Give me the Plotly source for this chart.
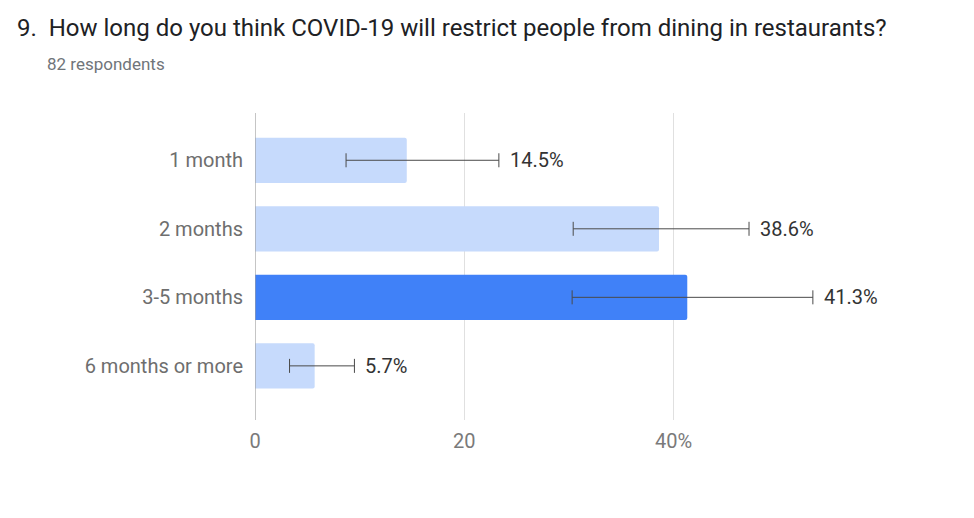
import plotly.graph_objects as go

# survey answers, top to bottom
categories = ["1 month", "2 months", "3-5 months", "6 months or more"]
percent = [14.5, 38.6, 41.3, 5.7]
err_minus = [5.8, 8.2, 11.0, 2.4]
err_plus = [8.8, 8.6, 12.0, 3.8]
labels = ["14.5%", "38.6%", "41.3%", "5.7%"]
highlight = "3-5 months"

tick_vals = [0, 20, 40]
tick_text = ["0", "20", "40%"]

bar_colors = ["#4081f8" if c == highlight else "#c6dafc" for c in categories]

# page body has an 8px margin, so the plot box is shifted back by that much
PL, PT, PW, PH = 247, 105, 628.5, 307

fig = go.Figure()

fig.add_trace(go.Bar(
    y=categories,
    x=percent,
    orientation="h",
    width=0.66,
    marker=dict(color=bar_colors, line=dict(width=0)),
    marker_cornerradius=2,
    error_x=dict(
        type="data",
        symmetric=False,
        array=err_plus,
        arrayminus=err_minus,
        color="#4a4a4a",
        thickness=1,
        width=7,
    ),
    hoverinfo="skip",
))

# value labels just right of the error bar caps
for cat, v, p, lab in zip(categories, percent, err_plus, labels):
    fig.add_annotation(
        x=v + p, y=cat, text=lab, showarrow=False,
        xanchor="left", xshift=9,
        font=dict(family="Roboto", size=20, color="#333333"),
    )

# question title and respondent count
fig.add_annotation(
    text="9.  How long do you think COVID-19 will restrict people from dining in restaurants?",
    xref="paper", yref="paper", x=(15 - 255) / PW, y=(420 - 28) / PH,
    xanchor="left", yanchor="middle", showarrow=False,
    font=dict(family="Roboto", size=24, color="#202124"),
)
fig.add_annotation(
    text="82 respondents",
    xref="paper", yref="paper", x=(45 - 255) / PW, y=(420 - 64) / PH,
    xanchor="left", yanchor="middle", showarrow=False,
    font=dict(family="Roboto", size=17, color="#70757a"),
)

fig.update_layout(
    width=974, height=518,
    margin=dict(l=PL, r=974 - PL - PW, t=PT, b=518 - PT - PH),
    paper_bgcolor="white", plot_bgcolor="white",
    showlegend=False,
    font=dict(family="Roboto", size=20, color="#6e6e6e"),
    xaxis=dict(
        range=[0, 60],
        tickvals=tick_vals, ticktext=tick_text,
        showgrid=True, gridcolor="#e0e0e0", gridwidth=1,
        zeroline=False, showline=False,
        tickfont=dict(color="#7a7a7a", size=20),
        ticklabelstandoff=7,
    ),
    yaxis=dict(
        categoryorder="array", categoryarray=categories,
        range=[3.79, -0.69],
        showgrid=False, zeroline=False,
        showline=False,
        tickfont=dict(color="#6e6e6e", size=20),
        ticklabelstandoff=11,
    ),
    shapes=[dict(
        type="line", xref="x", yref="paper", x0=0, x1=0, y0=0, y1=1,
        line=dict(color="#9e9e9e", width=1.2),
    )],
)

fig.write_html("out.html")
